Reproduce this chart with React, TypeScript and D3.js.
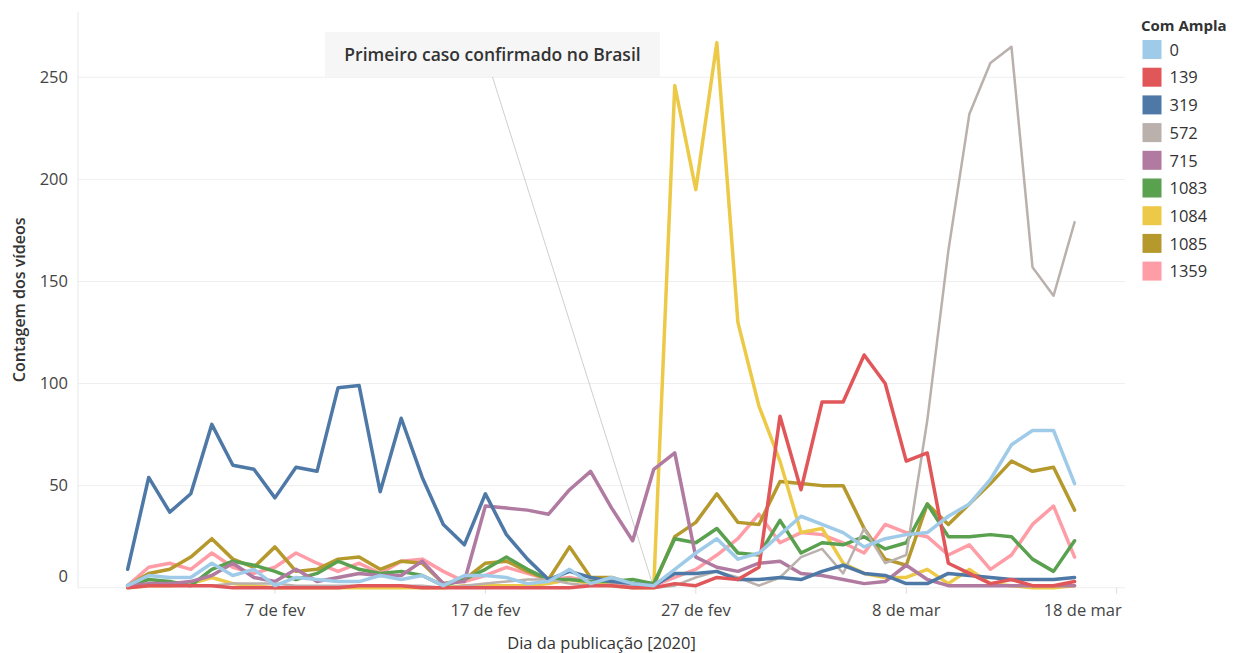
import React from "react";
import * as d3 from "d3";

const seriesKeys = ["0", "139", "319", "572", "715", "1083", "1084", "1085", "1359"];
const seriesColors = ["#A0CBE8", "#E15759", "#4E79A7", "#BAB0AC", "#B07AA1", "#59A14F", "#EDC948", "#B6992D", "#FF9DA7"];

// days from 31 Jan 2020 to 16 Mar 2020
const dates = d3.utcDay.range(new Date(Date.UTC(2020, 0, 31)), new Date(Date.UTC(2020, 2, 17)));

const s0 = [1, 6, 5, 5, 12, 6, 9, 1, 5, 4, 3, 3, 6, 4, 6, 1, 6, 6, 5, 2, 3, 9, 2, 5, 2, 1, 9, 17, 24, 14, 17, 26, 35, 31, 27, 20, 24, 26, 27, 35, 41, 53, 70, 77, 77, 51];
const s139 = [0, 1, 1, 1, 1, 0, 0, 0, 0, 0, 0, 1, 1, 1, 0, 0, 0, 0, 0, 0, 0, 0, 1, 1, 0, 0, 2, 1, 5, 4, 10, 84, 48, 91, 91, 114, 100, 62, 66, 12, 7, 2, 4, 1, 1, 3];
const s319 = [9, 54, 37, 46, 80, 60, 58, 44, 59, 57, 98, 99, 47, 83, 54, 31, 21, 46, 26, 14, 4, 8, 5, 3, 2, 1, 7, 7, 8, 4, 4, 5, 4, 8, 11, 7, 6, 2, 2, 7, 6, 5, 4, 4, 4, 5];
const s572 = [0, 1, 1, 1, 1, 2, 2, 2, 1, 1, 1, 1, 1, 1, 1, 0, 1, 2, 3, 4, 4, 2, 1, 1, 1, 0, 1, 5, 8, 5, 1, 5, 15, 19, 7, 29, 12, 16, 82, 165, 232, 257, 265, 157, 143, 179];
const s715 = [1, 2, 2, 3, 6, 12, 5, 3, 9, 3, 5, 7, 6, 6, 13, 2, 3, 40, 39, 38, 36, 48, 57, 39, 23, 58, 66, 15, 10, 8, 12, 13, 7, 6, 4, 2, 3, 11, 4, 1, 1, 1, 1, 1, 1, 1];
const s1083 = [1, 4, 3, 1, 9, 13, 11, 8, 4, 7, 13, 9, 7, 8, 6, 1, 4, 9, 15, 9, 4, 4, 3, 3, 4, 2, 24, 22, 29, 17, 16, 33, 17, 22, 21, 25, 19, 22, 41, 25, 25, 26, 25, 14, 8, 23];
const s1084 = [0, 1, 1, 2, 5, 2, 1, 0, 0, 0, 0, 0, 0, 0, 0, 0, 1, 1, 1, 1, 2, 4, 2, 1, 0, 0, 246, 195, 267, 130, 89, 62, 27, 29, 12, 7, 5, 5, 9, 2, 9, 2, 1, 0, 0, 1];
const s1085 = [1, 7, 9, 15, 24, 14, 10, 20, 8, 9, 14, 15, 9, 13, 12, 2, 4, 12, 13, 8, 4, 20, 5, 5, 2, 1, 25, 32, 46, 32, 31, 52, 51, 50, 50, 29, 14, 11, 41, 31, 41, 51, 62, 57, 59, 38];
const s1359 = [1, 10, 12, 9, 17, 10, 7, 10, 17, 12, 8, 12, 7, 13, 14, 8, 3, 6, 10, 7, 4, 5, 3, 2, 1, 1, 5, 9, 16, 24, 36, 22, 27, 26, 22, 17, 31, 27, 25, 16, 21, 9, 16, 31, 40, 15];

const seriesValues = [s0, s139, s319, s572, s715, s1083, s1084, s1085, s1359];
const seriesWidths = [3.5, 3.5, 3.5, 2.5, 3.5, 3.5, 3.5, 3.5, 3.5];

const yTicks = [0, 50, 100, 150, 200, 250];
const xTickDates = [
  new Date(Date.UTC(2020, 1, 7)),
  new Date(Date.UTC(2020, 1, 17)),
  new Date(Date.UTC(2020, 1, 27)),
  new Date(Date.UTC(2020, 2, 8)),
  new Date(Date.UTC(2020, 2, 18)),
];
const xTickLabels = ["7 de fev", "17 de fev", "27 de fev", "8 de mar", "18 de mar"];

const annotationText = "Primeiro caso confirmado no Brasil";
const annotationDate = new Date(Date.UTC(2020, 1, 25));
const annotationValue = 0;

const FONT = "'Open Sans', 'DejaVu Sans', sans-serif";

export default function App() {
  const W = 1238;
  const H = 653;
  const left = 78;
  const right = 1125;
  const top = 12;
  const bottom = 587.7;

  const x = d3
    .scaleUtc()
    .domain([new Date(Date.UTC(2020, 0, 28, 15, 22)), new Date(Date.UTC(2020, 2, 18, 9, 30))])
    .range([left, right]);
  const y = d3.scaleLinear().domain([0, 282]).range([bottom, top]);

  const line = d3
    .line<number>()
    .x((_, i) => x(dates[i]))
    .y((d) => y(d));

  const order = seriesKeys.map((_, i) => i).reverse();

  const ax = x(annotationDate);
  const ay = y(annotationValue);
  const boxX = 325;
  const boxW = 335;
  const boxY = 32;
  const boxH = 45;

  return (
    <svg width={W} height={H} style={{ position: "absolute", left: 0, top: 0, background: "#fff" }} fontFamily={FONT}>
      {/* gridlines */}
      {yTicks.map((t) => (
        <line key={t} x1={left} x2={right} y1={y(t)} y2={y(t)} stroke="#efefef" strokeWidth={1} />
      ))}
      <line x1={left} x2={left} y1={top} y2={bottom} stroke="#e8e8e8" strokeWidth={1} />
      {/* y tick labels */}
      {yTicks.map((t) => (
        <text
          key={t}
          x={68}
          y={t === 0 ? y(t) - 11 : y(t)}
          dy="0.35em"
          textAnchor="end"
          fontSize={16.5}
          fill="#444"
        >
          {t}
        </text>
      ))}
      {/* x ticks */}
      {xTickDates.map((d, i) => (
        <g key={i}>
          <line x1={x(d)} x2={x(d)} y1={bottom} y2={bottom + 6} stroke="#dcdcdc" />
          <text
            x={i === xTickDates.length - 1 ? x(d) + 5 : x(d)}
            y={610}
            dy="0.35em"
            textAnchor={i === xTickDates.length - 1 ? "end" : "middle"}
            fontSize={16.5}
            fill="#444"
          >
            {xTickLabels[i]}
          </text>
        </g>
      ))}

      {/* annotation */}
      <line x1={boxX + boxW / 2} y1={boxY + boxH} x2={ax} y2={ay} stroke="#cfcfcf" strokeWidth={1} />
      <rect x={boxX} y={boxY} width={boxW} height={boxH} fill="#f6f6f6" />

      {/* series */}
      {order.map((i) => (
        <path
          key={seriesKeys[i]}
          d={line(seriesValues[i]) || ""}
          fill="none"
          stroke={seriesColors[i]}
          strokeWidth={seriesWidths[i]}
          strokeLinejoin="round"
          strokeLinecap="round"
        />
      ))}

      <text x={boxX + boxW / 2} y={boxY + boxH / 2} dy="0.35em" textAnchor="middle" fontSize={17.5} fontWeight={600} fill="#333">
        {annotationText}
      </text>

      {/* axis titles */}
      <text
        transform={`translate(19, ${(top + bottom) / 2}) rotate(-90)`}
        textAnchor="middle"
        dy="0.35em"
        fontSize={16}
        fontWeight={600}
        fill="#333"
      >
        Contagem dos vídeos
      </text>
      <text x={(left + right) / 2} y={643} dy="0.35em" textAnchor="middle" fontSize={16.5} fill="#333">
        Dia da publicação [2020]
      </text>

      {/* legend */}
      <text x={1141} y={26} dy="0.35em" fontSize={15} fontWeight={700} fill="#333">
        Com Ampla
      </text>
      {seriesKeys.map((k, i) => (
        <g key={k} transform={`translate(1142.5, ${40 + i * 27.7})`}>
          <rect x={0} y={0} width={19} height={19} fill={seriesColors[i]} />
          <text x={27} y={10} dy="0.35em" fontSize={16.5} fill="#333">
            {k}
          </text>
        </g>
      ))}
    </svg>
  );
}
